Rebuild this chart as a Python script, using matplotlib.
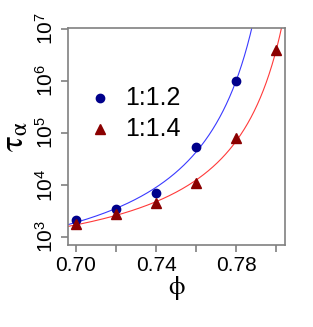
import numpy as np
import matplotlib
matplotlib.use("Agg")
import matplotlib.pyplot as plt
from matplotlib.ticker import FixedLocator

plt.rcParams['font.family'] = ['Liberation Sans', 'DejaVu Sans']
plt.rcParams['mathtext.fontset'] = 'custom'
plt.rcParams['mathtext.rm'] = 'Liberation Sans'
plt.rcParams['mathtext.it'] = 'Liberation Sans'

phi = np.array([0.70, 0.72, 0.74, 0.76, 0.78, 0.80])
tau_12 = [2150, 3450, 7000, 53000, 1.0e6]          # 1:1.2 (first five phi)
tau_14 = [1780, 2770, 4500, 10800, 80000, 4.0e6]   # 1:1.4
labels = ["1:1.2", "1:1.4"]
xticks = [0.70, 0.72, 0.74, 0.76, 0.78, 0.80]
xticklabels = ["0.70", "", "0.74", "", "0.78", ""]
yticks = [1e3, 1e4, 1e5, 1e6, 1e7]


def vft_fit(x, y):
    x = np.asarray(x); ly = np.log10(y)
    best = None
    for p0 in np.linspace(x.max() + 0.001, x.max() + 0.2, 4000):
        A = np.vstack([np.ones_like(x), 1.0 / (p0 - x)]).T
        coef, res, *_ = np.linalg.lstsq(A, ly, rcond=None)
        r = np.sum((A @ coef - ly) ** 2)
        if best is None or r < best[0]:
            best = (r, p0, coef)
    return best[1], best[2]


fig = plt.figure(figsize=(3.13, 3.27), dpi=100)
ax = fig.add_axes([68 / 313, 1 - 245 / 327, 217 / 313, 217 / 327])
ax.set_yscale('log')
ax.set_xlim(0.696, 0.8043)
ax.set_ylim(10 ** 2.846, 10 ** 7.02)

for ydata, pcol, lcol, mk, ms in [(tau_12, '#00008b', '#3a3aff', 'o', 6),
                                  (tau_14, '#8b0000', '#ff3a3a', '^', 7)]:
    x = phi[:len(ydata)]
    p0, coef = vft_fit(x, ydata)
    xs = np.linspace(0.696, min(p0 - 1e-4, 0.8043), 600)
    ys = 10 ** (coef[0] + coef[1] / (p0 - xs))
    ax.plot(xs, ys, color=lcol, lw=0.8, zorder=2)
    ax.plot(x, ydata, linestyle='none', marker=mk, ms=ms, color=pcol,
            markeredgecolor=pcol, zorder=3)

for s in ax.spines.values():
    s.set_color('#808080')
    s.set_linewidth(1.2)

ax.xaxis.set_major_locator(FixedLocator(xticks))
ax.set_xticklabels(xticklabels)
ax.yaxis.set_major_locator(FixedLocator(yticks))
ax.yaxis.set_minor_locator(FixedLocator([]))
ax.set_yticklabels([r'$10^{%d}$' % int(np.log10(v)) for v in yticks],
                   rotation=90, va='center')
ax.tick_params(axis='both', which='major', direction='out', length=5,
               width=1.2, color='#808080', labelsize=15, pad=3)

ax.set_xlabel(r'$\mathrm{\phi}$', fontsize=19, labelpad=-1, math_fontfamily='stix')
ax.set_ylabel(r'$\mathrm{\tau}_{\mathrm{\alpha}}$', fontsize=24, labelpad=3,
              math_fontfamily='stix')

# legend
ax.plot([0.712], [10 ** 5.67], marker='o', ms=6, color='#00008b', linestyle='none', zorder=3)
ax.plot([0.712], [10 ** 5.08], marker='^', ms=7, color='#8b0000', linestyle='none', zorder=3)
ax.text(0.7245, 10 ** 5.67, labels[0], fontsize=18, va='center', ha='left')
ax.text(0.7245, 10 ** 5.08, labels[1], fontsize=18, va='center', ha='left')

fig.savefig('out.png', dpi=100)
